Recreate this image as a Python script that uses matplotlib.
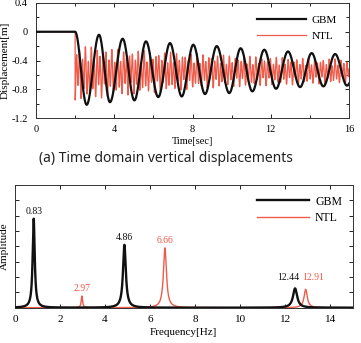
import numpy as np
import matplotlib
matplotlib.use("Agg")
import matplotlib.pyplot as plt
from matplotlib.ticker import MultipleLocator, NullFormatter

# ---------------- data ----------------
# GBM time response: extrema (time [s], displacement [m])
gbm_t = [0.0, 2.0, 2.59, 3.22, 3.78, 4.43, 5.03, 5.62, 6.25, 6.85, 7.45, 8.04,
         8.64, 9.24, 9.88, 10.46, 11.06, 11.67, 12.27, 12.88, 13.50, 14.09,
         14.69, 15.29, 15.90]
gbm_v = [0.0, 0.0, -1.016, -0.042, -0.98, -0.097, -0.955, -0.134, -0.909, -0.158,
         -0.90, -0.181, -0.867, -0.20, -0.853, -0.23, -0.83, -0.25, -0.793, -0.274,
         -0.77, -0.297, -0.76, -0.31, -0.75]

# NTL time response: envelope (time, upper, lower) and dominant frequencies
ntl_env_t = [2.0, 2.5, 4.0, 6.0, 8.0, 10.0, 12.0, 14.0, 16.0]
ntl_env_up = [-0.20, -0.20, -0.24, -0.27, -0.30, -0.33, -0.35, -0.37, -0.38]
ntl_env_lo = [-0.95, -0.95, -0.90, -0.85, -0.80, -0.77, -0.75, -0.73, -0.72]
ntl_main_freq = 6.66
ntl_side_freq = 2.97

# Frequency spectrum peaks
gbm_peak_f = [0.83, 4.86, 12.44]
gbm_peak_h = [5.8, 4.1, 1.26]
gbm_peak_w = [0.055, 0.075, 0.11]
ntl_peak_f = [2.97, 6.66, 12.91]
ntl_peak_h = [0.76, 3.9, 1.2]
ntl_peak_w = [0.035, 0.08, 0.085]
gbm_labels = ["0.83", "4.86", "12.44"]
ntl_labels = ["2.97", "6.66", "12.91"]
gbm_label_f = [0.83, 4.86, 12.13]
ntl_label_f = [2.97, 6.66, 13.25]
gbm_label_y = [5.8, 4.1, 1.45]
ntl_label_y = [0.76, 3.9, 1.45]

BLACK = "#111111"
RED = "#f05a48"

plt.rcParams["font.family"] = ["Liberation Serif", "DejaVu Serif"]

fig = plt.figure(figsize=(3.61, 3.43), dpi=100)

# ---------------- top: time domain ----------------
ax1 = fig.add_axes([36 / 361, 1 - 118 / 343, (349 - 36) / 361, (118 - 3) / 343])

# GBM: smooth half-cosine segments between read extrema
tt, vv = [], []
for i in range(len(gbm_t) - 1):
    t0, t1 = gbm_t[i], gbm_t[i + 1]
    v0, v1 = gbm_v[i], gbm_v[i + 1]
    s = np.linspace(0, 1, 40, endpoint=False)
    tt.append(t0 + (t1 - t0) * s)
    vv.append(v0 + (v1 - v0) * (1 - np.cos(np.pi * s)) / 2)
tt = np.concatenate(tt)
vv = np.concatenate(vv)
t_last = np.linspace(gbm_t[-2], 16, 30)
s = (t_last - gbm_t[-2]) / (gbm_t[-1] - gbm_t[-2])
v_last = gbm_v[-2] + (gbm_v[-1] - gbm_v[-2]) * (1 - np.cos(np.pi * s)) / 2
keep = tt < gbm_t[-2]
tt = np.concatenate([tt[keep], t_last])
vv = np.concatenate([vv[keep], v_last])

# NTL: oscillation inside the read envelope
tn = np.linspace(2.0, 16.0, 3000)
up = np.interp(tn, ntl_env_t, ntl_env_up)
lo = np.interp(tn, ntl_env_t, ntl_env_lo)
c = (up + lo) / 2
a = (up - lo) / 2
tau = tn - 2.0
osc = 0.72 * (-np.cos(2 * np.pi * ntl_main_freq * tau)) + 0.28 * (-np.cos(2 * np.pi * ntl_side_freq * tau))
vn = c + a * osc
tn = np.concatenate([[0.0, 2.0], tn])
vn = np.concatenate([[0.0, 0.0], vn])

ax1.plot(tn, vn, color=RED, lw=0.9, label="NTL", zorder=2)
ax1.plot(tt, vv, color=BLACK, lw=1.6, label="GBM", zorder=3)

ax1.set_xlim(0, 16)
ax1.set_ylim(-1.2, 0.4)
ax1.xaxis.set_major_locator(MultipleLocator(4))
ax1.xaxis.set_minor_locator(MultipleLocator(2))
ax1.yaxis.set_major_locator(MultipleLocator(0.4))
ax1.yaxis.set_minor_locator(MultipleLocator(0.2))
ax1.yaxis.set_major_formatter(plt.FuncFormatter(lambda v, p: "0" if abs(v) < 1e-9 else f"{v:.1f}"))
ax1.tick_params(which="both", direction="in", top=True, right=True, labelsize=7.5, width=0.6)
ax1.tick_params(which="major", length=3)
ax1.tick_params(which="minor", length=2)
ax1.tick_params(axis="y", pad=6)
ax1.tick_params(axis="x", pad=5)
ax1.set_xlabel("Time[sec]", fontsize=7.5, labelpad=2)
ax1.set_ylabel("Displacement[m]", fontsize=8)
ax1.yaxis.set_label_coords(-0.084, 0.5)
for sp in ax1.spines.values():
    sp.set_linewidth(0.7)
    sp.set_color("#333333")
h, l = ax1.get_legend_handles_labels()
ax1.legend(h[::-1], l[::-1], loc="upper right", frameon=False, fontsize=8,
           handlelength=4.4, handletextpad=0.5, borderaxespad=0.7, labelspacing=0.55)

fig.text(166 / 361, 1 - 158.5 / 343, "(a) Time domain vertical displacements",
         ha="center", va="center", fontsize=10, family=["Noto Sans", "DejaVu Sans"],
         color="#222222")

# ---------------- bottom: frequency domain ----------------
ax2 = fig.add_axes([15 / 361, 1 - 307.7 / 343, (352.7 - 15) / 361, (307.7 - 185) / 343])
f = np.linspace(0, 15, 6000)


def spectrum(fs, hs, ws):
    y = np.zeros_like(f)
    for f0, h0, w0 in zip(fs, hs, ws):
        y += h0 / (1 + ((f - f0) / w0) ** 2)
    return y


y_gbm = spectrum(gbm_peak_f, gbm_peak_h, gbm_peak_w)
y_ntl = spectrum(ntl_peak_f, ntl_peak_h, ntl_peak_w)
ax2.plot(f, y_ntl, color=RED, lw=1.0, label="NTL", zorder=2)
ax2.plot(f, y_gbm, color=BLACK, lw=1.7, label="GBM", zorder=3)

for fx, fy, lab in zip(gbm_label_f, gbm_label_y, gbm_labels):
    ax2.text(fx, fy + 0.2, lab, ha="center", va="bottom", fontsize=7, color=BLACK)
for fx, fy, lab in zip(ntl_label_f, ntl_label_y, ntl_labels):
    ax2.text(fx, fy + 0.2, lab, ha="center", va="bottom", fontsize=7, color=RED)

ax2.set_xlim(0, 15)
ax2.set_ylim(0, 8)
ax2.xaxis.set_major_locator(MultipleLocator(2))
ax2.yaxis.set_major_locator(MultipleLocator(1))
ax2.yaxis.set_major_formatter(NullFormatter())
ax2.tick_params(which="both", direction="in", top=True, right=True, labelsize=8, width=0.6, length=3)
ax2.tick_params(axis="x", pad=5)
ax2.set_xlabel("Frequency[Hz]", fontsize=8, labelpad=3)
ax2.set_ylabel("Amplitude", fontsize=8)
ax2.yaxis.set_label_coords(-0.019, 0.5)
for sp in ax2.spines.values():
    sp.set_linewidth(0.7)
    sp.set_color("#333333")
h, l = ax2.get_legend_handles_labels()
ax2.legend(h[::-1], l[::-1], loc="upper right", frameon=False, fontsize=8.5,
           handlelength=4.4, handletextpad=0.5, borderaxespad=0.5, labelspacing=0.4)

fig.savefig("out.png", dpi=100)
